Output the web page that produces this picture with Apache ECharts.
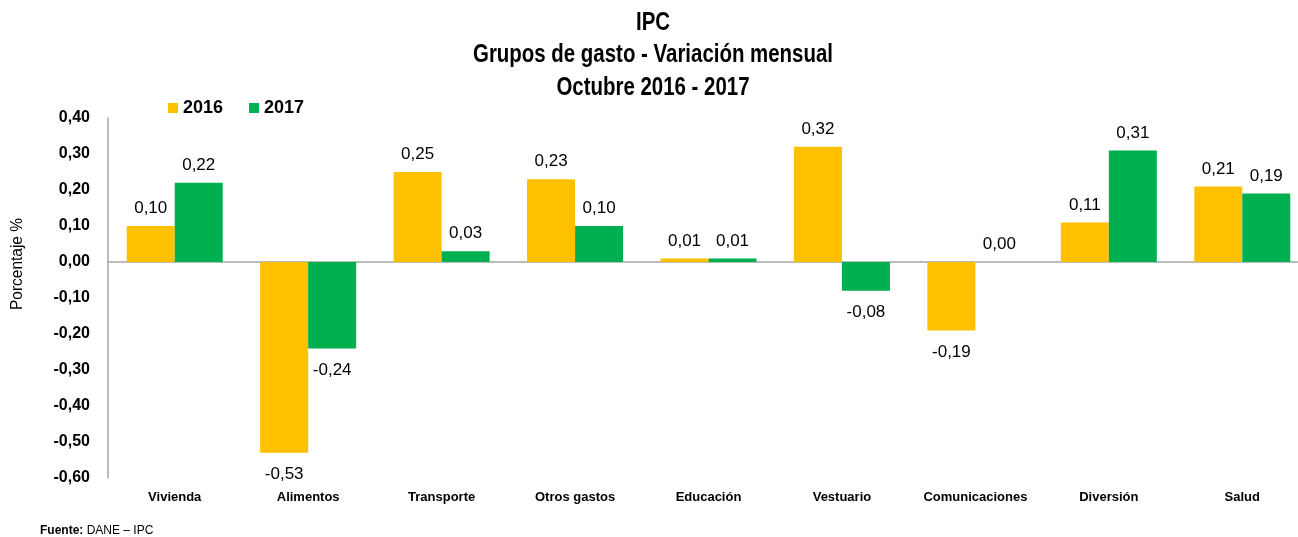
<!DOCTYPE html>
<html>
<head>
<meta charset="utf-8">
<script src="https://cdn.jsdelivr.net/npm/echarts@6/dist/echarts.min.js"></script>
<style>
  html, body { margin: 0; padding: 0; background: #fff; overflow: hidden; }
  #main { width: 1312px; height: 537px; }
</style>
</head>
<body>
<div id="main"></div>
<script>
var categories = ['Vivienda', 'Alimentos', 'Transporte', 'Otros gastos', 'Educación', 'Vestuario', 'Comunicaciones', 'Diversión', 'Salud'];
var values2016 = [0.10, -0.53, 0.25, 0.23, 0.01, 0.32, -0.19, 0.11, 0.21];
var values2017 = [0.22, -0.24, 0.03, 0.10, 0.01, -0.08, 0.00, 0.31, 0.19];
var titleLines = ['IPC', 'Grupos de gasto - Variación mensual', 'Octubre 2016 - 2017'];

var arial = '"Liberation Sans", Arial, sans-serif';
var fmt = function (v) { return v.toFixed(2).replace('.', ','); };

// la fuente original es condensada: se estrecha el texto del título con scaleX
var titleFont = 'bold 25px "Liberation Sans"';
var ctx = document.createElement('canvas').getContext('2d');
ctx.font = titleFont;
var titleScale = 360 / ctx.measureText(titleLines[1]).width;
ctx.font = '16px "Liberation Sans"';
var nameScale = 92 / ctx.measureText('Porcentaje %').width;

// etiqueta arriba si es positivo, abajo si es negativo
function withLabels(arr) {
    return arr.map(function (v) {
        return { value: v, label: v < 0 ? { position: 'bottom', distance: 13 } : { position: 'top' } };
    });
}

var graphics = titleLines.map(function (t, i) {
    return {
        type: 'text', x: 653, y: 23 + i * 32.5, scaleX: titleScale,
        style: { text: t, font: titleFont, fill: '#000', textAlign: 'center', textVerticalAlign: 'middle' }
    };
});
graphics.push({
    type: 'text', x: 18, y: 264, rotation: Math.PI / 2, scaleX: nameScale,
    style: { text: 'Porcentaje %', font: '16px "Liberation Sans"', fill: '#000', textAlign: 'center', textVerticalAlign: 'middle' }
});
graphics.push({
    type: 'text', x: 40, y: 531,
    style: {
        text: '{b|Fuente:} DANE – IPC', font: '12px "Liberation Sans"', fill: '#000', textVerticalAlign: 'middle',
        rich: { b: { font: 'bold 12px "Liberation Sans"', fill: '#000' } }
    }
});

var chart = echarts.init(document.getElementById('main'));
var option = {
    animation: false,
    graphic: graphics,
    legend: {
        data: ['2016', '2017'],
        left: 168, top: 99, padding: 0,
        icon: 'rect',
        itemWidth: 10, itemHeight: 10, itemGap: 26,
        textStyle: { fontFamily: arial, fontSize: 18, fontWeight: 'bold', color: '#000' }
    },
    grid: { left: 108, top: 118, width: 1201, height: 360 },
    xAxis: [
        {
            type: 'category',
            data: categories,
            axisLine: { show: false, onZero: false },
            axisTick: { show: false },
            axisLabel: { interval: 0, margin: 13, fontFamily: arial, fontSize: 13, fontWeight: 'bold', color: '#000' }
        },
        {
            type: 'category',
            data: categories,
            axisLine: { show: true, onZero: true, lineStyle: { color: '#a6a6a6', width: 1.5 } },
            axisTick: { show: false },
            axisLabel: { show: false }
        }
    ],
    yAxis: {
        type: 'value',
        min: -0.6, max: 0.4, interval: 0.1,
        axisLine: { show: true, lineStyle: { color: '#a6a6a6', width: 1.5 } },
        axisTick: { show: false },
        splitLine: { show: false },
        axisLabel: {
            margin: 18,
            fontFamily: arial, fontSize: 16, fontWeight: 'bold', color: '#000',
            formatter: function (v) { return fmt(Math.round(v * 100) / 100); }
        }
    },
    series: [
        {
            name: '2016', type: 'bar', barWidth: 48, barGap: '0%',
            itemStyle: { color: '#ffc000' },
            label: {
                show: true, distance: 9,
                fontFamily: arial, fontSize: 17, color: '#000',
                formatter: function (p) { return fmt(p.value); }
            },
            data: withLabels(values2016)
        },
        {
            name: '2017', type: 'bar', barWidth: 48, barGap: '0%',
            itemStyle: { color: '#00b050' },
            label: {
                show: true, distance: 9,
                fontFamily: arial, fontSize: 17, color: '#000',
                formatter: function (p) { return fmt(p.value); }
            },
            data: withLabels(values2017)
        }
    ]
};
chart.setOption(option);
</script>
</body>
</html>
